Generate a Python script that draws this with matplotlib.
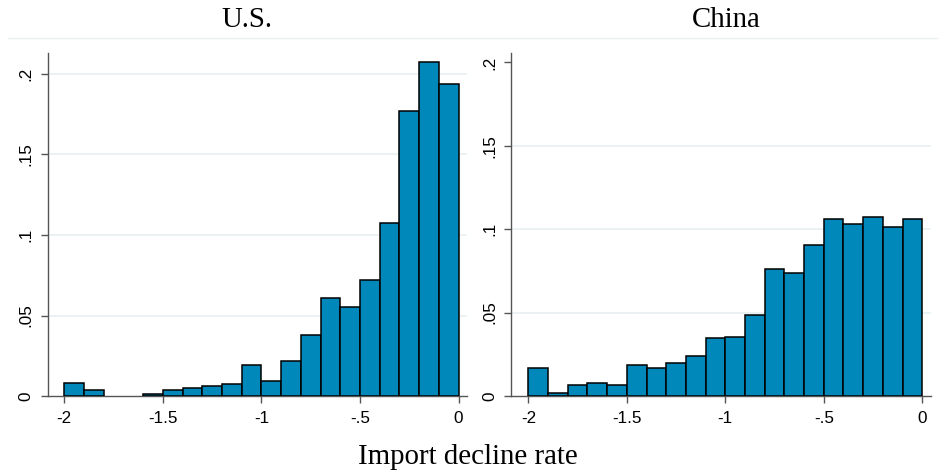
### Histograms of import decline rates, U.S. vs China (Stata-like look)

import matplotlib
matplotlib.use('Agg')

import matplotlib.pyplot as pp
from matplotlib.lines import Line2D
import numpy as np

##### DATA #####

# Left edges of the bins (width 0.1)
bin_edges = [-2.0, -1.9, -1.8, -1.7, -1.6, -1.5, -1.4, -1.3, -1.2, -1.1,
             -1.0, -0.9, -0.8, -0.7, -0.6, -0.5, -0.4, -0.3, -0.2, -0.1]
bin_width = 0.1

# Density per bin
us_density = [0.008, 0.0037, 0.0, 0.0, 0.0012, 0.0035, 0.005, 0.0064, 0.0077, 0.019,
              0.0095, 0.0215, 0.0377, 0.0609, 0.0555, 0.072, 0.1076, 0.1772, 0.2077, 0.1938]
china_density = [0.0168, 0.0018, 0.0066, 0.0078, 0.0066, 0.0188, 0.0168, 0.0196, 0.0242, 0.0346,
                 0.0352, 0.0486, 0.0763, 0.0739, 0.0907, 0.1063, 0.1029, 0.1073, 0.1015, 0.1063]

titles = ['U.S.', 'China']
xticks = [-2, -1.5, -1, -0.5, 0]
xtick_labels = ['-2', '-1.5', '-1', '-.5', '0']
yticks = [0, 0.05, 0.1, 0.15, 0.2]
ytick_labels = ['0', '.05', '.1', '.15', '.2']
xlabel = 'Import decline rate'

##### STYLE #####

bar_color = '#0088BB'
grid_color = '#E8F0F2'
axis_color = '#555555'
serif = 'Liberation Serif'
sans = 'Liberation Sans'

fig = pp.figure(figsize=(9.38, 4.71), dpi=100)

# Axes placement (figure fractions) and limits for each panel
boxes = [[0.0508, 0.1592, 0.4467, 0.7289],
         [0.5448, 0.1592, 0.4474, 0.7289]]
xlims = [(-2.084, 0.041), (-2.088, 0.043)]
ylims = [(0, 0.2132), (0, 0.2058)]
title_x = [246.7/938, 726.3/938]

for i, dens in enumerate([us_density, china_density]):
    ax = fig.add_axes(boxes[i])

    # empty bins are not drawn at all (no edge line along the axis)
    edges = np.array(bin_edges)
    dens = np.array(dens)
    keep = dens > 0
    ax.bar(edges[keep], dens[keep], width=bin_width, align='edge',
           color=bar_color, edgecolor='black', linewidth=1.1, zorder=3)
    ax.set_xlim(*xlims[i])
    ax.set_ylim(*ylims[i])

    ax.set_xticks(xticks)
    ax.set_xticklabels(xtick_labels, fontsize=12.3, family=sans)
    ax.set_yticks(yticks)
    ax.set_yticklabels(ytick_labels, fontsize=12.3, family=sans,
                       rotation=90, va='center')

    ax.tick_params(axis='both', length=5, width=1, color=axis_color)
    ax.tick_params(axis='x', pad=6)
    ax.tick_params(axis='y', pad=5)

    for s in ['top', 'right']:
        ax.spines[s].set_visible(False)
    for s in ['left', 'bottom']:
        ax.spines[s].set_color(axis_color)
        ax.spines[s].set_linewidth(1.0)

    ax.yaxis.grid(True, color=grid_color, linewidth=1.2, zorder=0)
    ax.set_axisbelow(True)
    glines = ax.get_ygridlines()
    glines[0].set_visible(False)
    if i == 1:
        # no top gridline on the China panel
        glines[-1].set_visible(False)

    fig.text(title_x[i], 0.942, titles[i], family=serif, fontsize=20.8,
             ha='center', va='baseline')

# thin separator line under the titles
fig.add_artist(Line2D([8/938, 1.0], [1 - 38.3/471, 1 - 38.3/471],
                      transform=fig.transFigure, color=grid_color, linewidth=1.0))

fig.text(468/938, 0.0149, xlabel, family=serif, fontsize=20.8,
         ha='center', va='baseline')

pp.savefig('out.png', dpi=100)
pp.close()
